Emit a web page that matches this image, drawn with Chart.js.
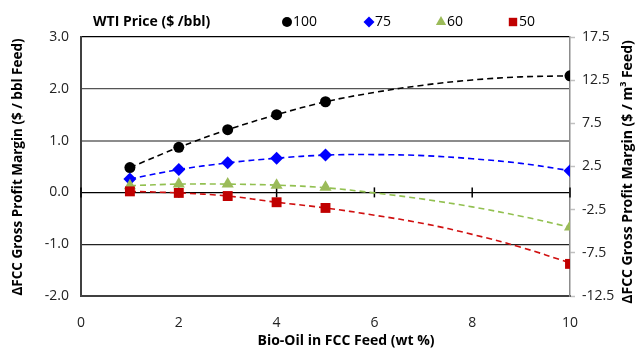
<!DOCTYPE html>
<html>
<head>
<meta charset="utf-8">
<script src="https://cdn.jsdelivr.net/npm/chart.js@4.4.1/dist/chart.umd.min.js"></script>
<style>
  html, body { margin: 0; padding: 0; background: #fff; }
</style>
</head>
<body>
<canvas id="chart" width="637" height="350"></canvas>
<script>
// bio-oil share in the FCC feed (wt %)
const bioOilPct = [1, 2, 3, 4, 5, 10];
// gross profit margin change ($ / bbl feed) per WTI price
const wti100 = [0.48, 0.87, 1.21, 1.50, 1.75, 2.25];
const wti75 = [0.26, 0.44, 0.57, 0.66, 0.72, 0.42];
const wti60 = [0.13, 0.16, 0.16, 0.14, 0.10, -0.67];
const wti50 = [0.02, -0.01, -0.07, -0.19, -0.30, -1.38];

// dashed trend curves
const trendPct = [1, 2, 3, 4, 5, 6, 7, 8, 9, 10];
const trend100 = [0.48, 0.87, 1.21, 1.50, 1.75, 1.93, 2.07, 2.17, 2.23, 2.25];
const trend75 = [0.26, 0.44, 0.57, 0.66, 0.72, 0.73, 0.71, 0.65, 0.56, 0.42];
const trend60 = [0.13, 0.16, 0.16, 0.14, 0.09, -0.01, -0.13, -0.28, -0.46, -0.67];
const trend50 = [0.02, -0.01, -0.07, -0.19, -0.30, -0.44, -0.60, -0.81, -1.06, -1.36];

const xTicks = [0, 2, 4, 6, 8, 10];

const FONT = "'Open Sans', sans-serif";

function pts(xs, ys) {
  return xs.map((x, i) => ({ x: x, y: ys[i] }));
}

function markerSet(label, ys, color, style, radius, order) {
  return {
    label: label,
    data: pts(bioOilPct, ys),
    showLine: false,
    pointStyle: style,
    pointRadius: radius,
    pointBackgroundColor: color,
    pointBorderColor: color,
    pointBorderWidth: 0,
    order: order,
  };
}

function trendSet(ys, color) {
  return {
    label: "",
    data: pts(trendPct, ys),
    showLine: true,
    borderColor: color,
    borderWidth: 1.6,
    borderDash: [6, 4],
    pointRadius: 0,
    tension: 0.4,
    fill: false,
    order: 10,
  };
}

const datasets = [
  trendSet(trend100, "#000000"),
  trendSet(trend75, "#0000ff"),
  trendSet(trend60, "#92c050"),
  trendSet(trend50, "#d01010"),
  markerSet("100", wti100, "#000000", "circle", 5.5, 4),
  markerSet("75", wti75, "#0000ff", "rectRot", 6.5, 3),
  markerSet("60", wti60, "#9bbb59", "triangle", 7, 2),
  markerSet("50", wti50, "#c00000", "rect", 7, 1),
];

// gridline colours by value
function gridColor(ctx) {
  const v = ctx.tick ? ctx.tick.value : null;
  if (v === 0) return "#000000";
  if (v === 1) return "#8c8c8c";
  if (v === 2) return "#555555";
  if (v === 3) return "#000000";
  return "#222222";
}

// legend row and axis titles
const decorPlugin = {
  id: "decor",
  afterDraw(chart) {
    const { ctx } = chart;
    ctx.save();
    ctx.fillStyle = "#000";
    ctx.textBaseline = "middle";
    ctx.font = "bold 14px " + FONT;
    ctx.textAlign = "left";
    ctx.fillText("WTI Price ($ /bbl)", 93, 22);

    ctx.font = "14px " + FONT;
    const legendX = [287, 369, 441, 513];
    chart.data.datasets.filter(d => d.label).forEach((d, i) => {
      const r = d.pointStyle === "circle" ? 5 : d.pointRadius * 0.85;
      ctx.fillStyle = d.pointBackgroundColor;
      ctx.strokeStyle = d.pointBorderColor;
      Chart.helpers.drawPoint(ctx, { pointStyle: d.pointStyle, radius: r, borderWidth: 0, rotation: 0 }, legendX[i], 22);
      ctx.fillStyle = "#000";
      ctx.fillText(d.label, legendX[i] + 6, 22);
    });

    // x title
    ctx.font = "bold 14px " + FONT;
    ctx.textAlign = "center";
    ctx.fillText("Bio-Oil in FCC Feed (wt %)", 346, 341);

    // left title
    ctx.save();
    ctx.translate(18, 167);
    ctx.rotate(-Math.PI / 2);
    ctx.font = "bold 13.5px " + FONT;
    ctx.fillText("\u0394FCC Gross Profit Margin ($ / bbl Feed)", 0, 0);
    ctx.restore();

    // right title with superscript
    ctx.save();
    ctx.translate(628, 172);
    ctx.rotate(-Math.PI / 2);
    const a = "\u0394FCC Gross Profit Margin ($ / m";
    const b = " Feed)";
    ctx.font = "bold 14px " + FONT;
    const wa = ctx.measureText(a).width;
    const wb = ctx.measureText(b).width;
    ctx.font = "bold 9px " + FONT;
    const ws = ctx.measureText("3").width;
    const start = -(wa + ws + wb) / 2;
    ctx.textAlign = "left";
    ctx.font = "bold 14px " + FONT;
    ctx.fillText(a, start, 0);
    ctx.font = "bold 9px " + FONT;
    ctx.fillText("3", start + wa, -5);
    ctx.font = "bold 14px " + FONT;
    ctx.fillText(b, start + wa + ws, 0);
    ctx.restore();

    ctx.restore();
  },
  // cross tick marks on the zero line
  beforeDatasetsDraw(chart) {
    const { ctx, scales } = chart;
    const y0 = scales.y.getPixelForValue(0);
    ctx.save();
    ctx.strokeStyle = "#000";
    ctx.lineWidth = 1.5;
    xTicks.forEach(v => {
      const px = scales.x.getPixelForValue(v);
      ctx.beginPath();
      ctx.moveTo(px, y0 - 5);
      ctx.lineTo(px, y0 + 5);
      ctx.stroke();
    });
    ctx.restore();
  },
};

new Chart(document.getElementById("chart"), {
  type: "scatter",
  data: { datasets: datasets },
  options: {
    responsive: false,
    devicePixelRatio: 1,
    animation: false,
    layout: { padding: { top: 37, left: 0, right: 0, bottom: 0 } },
    plugins: {
      legend: { display: false },
      tooltip: { enabled: false },
    },
    scales: {
      x: {
        type: "linear",
        min: 0,
        max: 10,
        afterBuildTicks: (s) => { s.ticks = xTicks.map(v => ({ value: v })); },
        afterFit: (s) => { s.height = 54; },
        ticks: { color: "#222", font: { family: FONT, size: 14 }, padding: 11 },
        grid: { display: false },
        border: { display: true, color: "#404040", width: 2 },
      },
      y: {
        position: "left",
        min: -2,
        max: 3,
        afterFit: (s) => { s.width = 81; },
        ticks: {
          stepSize: 1,
          color: "#222",
          font: { family: FONT, size: 14 },
          padding: 12,
          callback: (v) => Number(v).toFixed(1),
        },
        grid: {
          color: gridColor,
          lineWidth: (c) => (c.tick && c.tick.value === 1 ? 2 : 1.3),
          drawTicks: false,
        },
        border: { color: "#404040", width: 2 },
      },
      y2: {
        position: "right",
        min: -12.5,
        max: 17.5,
        afterFit: (s) => { s.width = 67; },
        ticks: {
          stepSize: 5,
          color: "#222",
          font: { family: FONT, size: 14 },
          padding: 7,
          callback: (v) => Number(v).toFixed(1),
        },
        grid: { drawOnChartArea: false, tickLength: 5, tickColor: "#c0c0c0", tickWidth: 1.5 },
        border: { color: "#8c8c8c", width: 1.5 },
      },
    },
  },
  plugins: [decorPlugin],
});
</script>
</body>
</html>
